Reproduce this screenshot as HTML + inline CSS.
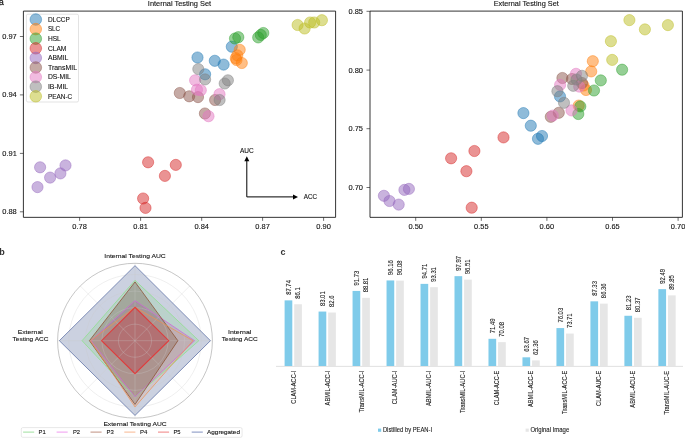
<!DOCTYPE html><html><head><meta charset="utf-8"><style>html,body{margin:0;padding:0;background:#fff;width:685px;height:438px;overflow:hidden}svg{display:block;will-change:transform}text{font-family:"Liberation Sans",sans-serif}</style></head><body>
<svg width="685" height="438" viewBox="0 0 685 438">
<rect width="685" height="438" fill="#fff"/>
<text x="-1.20" y="4.80" font-size="9" text-anchor="start" fill="#222" stroke="#222" stroke-width="0.3" >a</text>
<text x="-0.80" y="254.60" font-size="9" text-anchor="start" fill="#333" font-weight="bold" >b</text>
<text x="280.40" y="254.80" font-size="9" text-anchor="start" fill="#333" font-weight="bold" >c</text>
<circle cx="197.5" cy="57.5" r="5.6" fill="#1f77b4" fill-opacity="0.5" stroke="#1f77b4" stroke-opacity="0.5" stroke-width="0.9"/>
<circle cx="214.8" cy="60.8" r="5.6" fill="#1f77b4" fill-opacity="0.5" stroke="#1f77b4" stroke-opacity="0.5" stroke-width="0.9"/>
<circle cx="223.6" cy="64.6" r="5.6" fill="#1f77b4" fill-opacity="0.5" stroke="#1f77b4" stroke-opacity="0.5" stroke-width="0.9"/>
<circle cx="231.8" cy="46.7" r="5.6" fill="#1f77b4" fill-opacity="0.5" stroke="#1f77b4" stroke-opacity="0.5" stroke-width="0.9"/>
<circle cx="205.1" cy="74.3" r="5.6" fill="#1f77b4" fill-opacity="0.5" stroke="#1f77b4" stroke-opacity="0.5" stroke-width="0.9"/>
<circle cx="239.7" cy="49.8" r="5.6" fill="#ff7f0e" fill-opacity="0.5" stroke="#ff7f0e" stroke-opacity="0.5" stroke-width="0.9"/>
<circle cx="237.3" cy="55.3" r="5.6" fill="#ff7f0e" fill-opacity="0.5" stroke="#ff7f0e" stroke-opacity="0.5" stroke-width="0.9"/>
<circle cx="235.8" cy="58.2" r="5.6" fill="#ff7f0e" fill-opacity="0.5" stroke="#ff7f0e" stroke-opacity="0.5" stroke-width="0.9"/>
<circle cx="236.5" cy="60.0" r="5.6" fill="#ff7f0e" fill-opacity="0.5" stroke="#ff7f0e" stroke-opacity="0.5" stroke-width="0.9"/>
<circle cx="241.8" cy="63.0" r="5.6" fill="#ff7f0e" fill-opacity="0.5" stroke="#ff7f0e" stroke-opacity="0.5" stroke-width="0.9"/>
<circle cx="235.0" cy="38.5" r="5.6" fill="#2ca02c" fill-opacity="0.5" stroke="#2ca02c" stroke-opacity="0.5" stroke-width="0.9"/>
<circle cx="238.3" cy="37.2" r="5.6" fill="#2ca02c" fill-opacity="0.5" stroke="#2ca02c" stroke-opacity="0.5" stroke-width="0.9"/>
<circle cx="258.2" cy="37.4" r="5.6" fill="#2ca02c" fill-opacity="0.5" stroke="#2ca02c" stroke-opacity="0.5" stroke-width="0.9"/>
<circle cx="260.8" cy="34.9" r="5.6" fill="#2ca02c" fill-opacity="0.5" stroke="#2ca02c" stroke-opacity="0.5" stroke-width="0.9"/>
<circle cx="263.3" cy="33.0" r="5.6" fill="#2ca02c" fill-opacity="0.5" stroke="#2ca02c" stroke-opacity="0.5" stroke-width="0.9"/>
<circle cx="148.1" cy="162.3" r="5.6" fill="#d62728" fill-opacity="0.5" stroke="#d62728" stroke-opacity="0.5" stroke-width="0.9"/>
<circle cx="175.8" cy="164.9" r="5.6" fill="#d62728" fill-opacity="0.5" stroke="#d62728" stroke-opacity="0.5" stroke-width="0.9"/>
<circle cx="164.9" cy="175.9" r="5.6" fill="#d62728" fill-opacity="0.5" stroke="#d62728" stroke-opacity="0.5" stroke-width="0.9"/>
<circle cx="143.1" cy="198.5" r="5.6" fill="#d62728" fill-opacity="0.5" stroke="#d62728" stroke-opacity="0.5" stroke-width="0.9"/>
<circle cx="145.5" cy="207.9" r="5.6" fill="#d62728" fill-opacity="0.5" stroke="#d62728" stroke-opacity="0.5" stroke-width="0.9"/>
<circle cx="40.1" cy="167.3" r="5.6" fill="#9467bd" fill-opacity="0.5" stroke="#9467bd" stroke-opacity="0.5" stroke-width="0.9"/>
<circle cx="50.1" cy="177.6" r="5.6" fill="#9467bd" fill-opacity="0.5" stroke="#9467bd" stroke-opacity="0.5" stroke-width="0.9"/>
<circle cx="37.5" cy="187.1" r="5.6" fill="#9467bd" fill-opacity="0.5" stroke="#9467bd" stroke-opacity="0.5" stroke-width="0.9"/>
<circle cx="60.4" cy="173.4" r="5.6" fill="#9467bd" fill-opacity="0.5" stroke="#9467bd" stroke-opacity="0.5" stroke-width="0.9"/>
<circle cx="65.5" cy="165.4" r="5.6" fill="#9467bd" fill-opacity="0.5" stroke="#9467bd" stroke-opacity="0.5" stroke-width="0.9"/>
<circle cx="179.8" cy="93.0" r="5.6" fill="#8c564b" fill-opacity="0.5" stroke="#8c564b" stroke-opacity="0.5" stroke-width="0.9"/>
<circle cx="189.2" cy="96.3" r="5.6" fill="#8c564b" fill-opacity="0.5" stroke="#8c564b" stroke-opacity="0.5" stroke-width="0.9"/>
<circle cx="198.0" cy="97.1" r="5.6" fill="#8c564b" fill-opacity="0.5" stroke="#8c564b" stroke-opacity="0.5" stroke-width="0.9"/>
<circle cx="215.1" cy="100.0" r="5.6" fill="#8c564b" fill-opacity="0.5" stroke="#8c564b" stroke-opacity="0.5" stroke-width="0.9"/>
<circle cx="204.9" cy="113.5" r="5.6" fill="#8c564b" fill-opacity="0.5" stroke="#8c564b" stroke-opacity="0.5" stroke-width="0.9"/>
<circle cx="195.1" cy="80.3" r="5.6" fill="#e377c2" fill-opacity="0.5" stroke="#e377c2" stroke-opacity="0.5" stroke-width="0.9"/>
<circle cx="197.0" cy="89.7" r="5.6" fill="#e377c2" fill-opacity="0.5" stroke="#e377c2" stroke-opacity="0.5" stroke-width="0.9"/>
<circle cx="200.8" cy="90.2" r="5.6" fill="#e377c2" fill-opacity="0.5" stroke="#e377c2" stroke-opacity="0.5" stroke-width="0.9"/>
<circle cx="219.5" cy="94.2" r="5.6" fill="#e377c2" fill-opacity="0.5" stroke="#e377c2" stroke-opacity="0.5" stroke-width="0.9"/>
<circle cx="208.5" cy="116.2" r="5.6" fill="#e377c2" fill-opacity="0.5" stroke="#e377c2" stroke-opacity="0.5" stroke-width="0.9"/>
<circle cx="198.3" cy="69.1" r="5.6" fill="#7f7f7f" fill-opacity="0.5" stroke="#7f7f7f" stroke-opacity="0.5" stroke-width="0.9"/>
<circle cx="205.1" cy="79.4" r="5.6" fill="#7f7f7f" fill-opacity="0.5" stroke="#7f7f7f" stroke-opacity="0.5" stroke-width="0.9"/>
<circle cx="224.7" cy="83.5" r="5.6" fill="#7f7f7f" fill-opacity="0.5" stroke="#7f7f7f" stroke-opacity="0.5" stroke-width="0.9"/>
<circle cx="227.9" cy="80.3" r="5.6" fill="#7f7f7f" fill-opacity="0.5" stroke="#7f7f7f" stroke-opacity="0.5" stroke-width="0.9"/>
<circle cx="219.6" cy="100.0" r="5.6" fill="#7f7f7f" fill-opacity="0.5" stroke="#7f7f7f" stroke-opacity="0.5" stroke-width="0.9"/>
<circle cx="297.6" cy="25.0" r="5.6" fill="#bcbd22" fill-opacity="0.5" stroke="#bcbd22" stroke-opacity="0.5" stroke-width="0.9"/>
<circle cx="304.6" cy="28.5" r="5.6" fill="#bcbd22" fill-opacity="0.5" stroke="#bcbd22" stroke-opacity="0.5" stroke-width="0.9"/>
<circle cx="310.1" cy="22.5" r="5.6" fill="#bcbd22" fill-opacity="0.5" stroke="#bcbd22" stroke-opacity="0.5" stroke-width="0.9"/>
<circle cx="314.2" cy="22.5" r="5.6" fill="#bcbd22" fill-opacity="0.5" stroke="#bcbd22" stroke-opacity="0.5" stroke-width="0.9"/>
<circle cx="321.9" cy="20.2" r="5.6" fill="#bcbd22" fill-opacity="0.5" stroke="#bcbd22" stroke-opacity="0.5" stroke-width="0.9"/>
<path d="M23.4 11.1H335.6V217.35H23.4Z" fill="none" stroke="#000" stroke-width="0.8"/>
<path d="M19.9 36.5H23.4" stroke="#222" stroke-width="0.65"/>
<text x="16.80" y="39.00" font-size="6.7" text-anchor="end" fill="#111" stroke="#111" stroke-width="0.1" textLength="14.52" lengthAdjust="spacingAndGlyphs" >0.97</text>
<path d="M19.9 94.9H23.4" stroke="#222" stroke-width="0.65"/>
<text x="16.80" y="97.40" font-size="6.7" text-anchor="end" fill="#111" stroke="#111" stroke-width="0.1" textLength="14.57" lengthAdjust="spacingAndGlyphs" >0.94</text>
<path d="M19.9 153.39999999999998H23.4" stroke="#222" stroke-width="0.65"/>
<text x="16.80" y="155.90" font-size="6.7" text-anchor="end" fill="#111" stroke="#111" stroke-width="0.1" textLength="14.49" lengthAdjust="spacingAndGlyphs" >0.91</text>
<path d="M19.9 211.79999999999998H23.4" stroke="#222" stroke-width="0.65"/>
<text x="16.80" y="214.30" font-size="6.7" text-anchor="end" fill="#111" stroke="#111" stroke-width="0.1" textLength="14.58" lengthAdjust="spacingAndGlyphs" >0.88</text>
<path d="M79.6 217.35V220.85" stroke="#222" stroke-width="0.65"/>
<text x="79.60" y="229.00" font-size="6.7" text-anchor="middle" fill="#111" stroke="#111" stroke-width="0.1" textLength="14.58" lengthAdjust="spacingAndGlyphs" >0.78</text>
<path d="M140.6 217.35V220.85" stroke="#222" stroke-width="0.65"/>
<text x="140.60" y="229.00" font-size="6.7" text-anchor="middle" fill="#111" stroke="#111" stroke-width="0.1" textLength="14.49" lengthAdjust="spacingAndGlyphs" >0.81</text>
<path d="M201.7 217.35V220.85" stroke="#222" stroke-width="0.65"/>
<text x="201.70" y="229.00" font-size="6.7" text-anchor="middle" fill="#111" stroke="#111" stroke-width="0.1" textLength="14.57" lengthAdjust="spacingAndGlyphs" >0.84</text>
<path d="M262.6 217.35V220.85" stroke="#222" stroke-width="0.65"/>
<text x="262.60" y="229.00" font-size="6.7" text-anchor="middle" fill="#111" stroke="#111" stroke-width="0.1" textLength="14.52" lengthAdjust="spacingAndGlyphs" >0.87</text>
<path d="M323.6 217.35V220.85" stroke="#222" stroke-width="0.65"/>
<text x="323.60" y="229.00" font-size="6.7" text-anchor="middle" fill="#111" stroke="#111" stroke-width="0.1" textLength="14.58" lengthAdjust="spacingAndGlyphs" >0.90</text>
<text x="179.50" y="5.90" font-size="6.75" text-anchor="middle" fill="#111" stroke="#111" stroke-width="0.1" textLength="63.30" lengthAdjust="spacingAndGlyphs" >Internal Testing Set</text>
<rect x="26.4" y="14.2" width="52.1" height="87.8" rx="1.5" fill="#fff" fill-opacity="0.8" stroke="#d0d0d0" stroke-width="0.6"/>
<circle cx="35.8" cy="19.50" r="5.8" fill="#1f77b4" fill-opacity="0.5" stroke="#1f77b4" stroke-opacity="0.5" stroke-width="0.9"/>
<text x="47.90" y="21.80" font-size="6.75" text-anchor="start" fill="#111" stroke="#111" stroke-width="0.1" textLength="21.93" lengthAdjust="spacingAndGlyphs" >DLCCP</text>
<circle cx="35.8" cy="29.10" r="5.8" fill="#ff7f0e" fill-opacity="0.5" stroke="#ff7f0e" stroke-opacity="0.5" stroke-width="0.9"/>
<text x="47.90" y="31.40" font-size="6.75" text-anchor="start" fill="#111" stroke="#111" stroke-width="0.1" textLength="12.22" lengthAdjust="spacingAndGlyphs" >SLC</text>
<circle cx="35.8" cy="38.70" r="5.8" fill="#2ca02c" fill-opacity="0.5" stroke="#2ca02c" stroke-opacity="0.5" stroke-width="0.9"/>
<text x="47.90" y="41.00" font-size="6.75" text-anchor="start" fill="#111" stroke="#111" stroke-width="0.1" textLength="12.84" lengthAdjust="spacingAndGlyphs" >HSL</text>
<circle cx="35.8" cy="48.30" r="5.8" fill="#d62728" fill-opacity="0.5" stroke="#d62728" stroke-opacity="0.5" stroke-width="0.9"/>
<text x="47.90" y="50.60" font-size="6.75" text-anchor="start" fill="#111" stroke="#111" stroke-width="0.1" textLength="18.51" lengthAdjust="spacingAndGlyphs" >CLAM</text>
<circle cx="35.8" cy="57.90" r="5.8" fill="#9467bd" fill-opacity="0.5" stroke="#9467bd" stroke-opacity="0.5" stroke-width="0.9"/>
<text x="47.90" y="60.20" font-size="6.75" text-anchor="start" fill="#111" stroke="#111" stroke-width="0.1" textLength="20.51" lengthAdjust="spacingAndGlyphs" >ABMIL</text>
<circle cx="35.8" cy="67.50" r="5.8" fill="#8c564b" fill-opacity="0.5" stroke="#8c564b" stroke-opacity="0.5" stroke-width="0.9"/>
<text x="47.90" y="69.80" font-size="6.75" text-anchor="start" fill="#111" stroke="#111" stroke-width="0.1" textLength="29.13" lengthAdjust="spacingAndGlyphs" >TransMIL</text>
<circle cx="35.8" cy="77.10" r="5.8" fill="#e377c2" fill-opacity="0.5" stroke="#e377c2" stroke-opacity="0.5" stroke-width="0.9"/>
<text x="47.90" y="79.40" font-size="6.75" text-anchor="start" fill="#111" stroke="#111" stroke-width="0.1" textLength="23.02" lengthAdjust="spacingAndGlyphs" >DS-MIL</text>
<circle cx="35.8" cy="86.70" r="5.8" fill="#7f7f7f" fill-opacity="0.5" stroke="#7f7f7f" stroke-opacity="0.5" stroke-width="0.9"/>
<text x="47.90" y="89.00" font-size="6.75" text-anchor="start" fill="#111" stroke="#111" stroke-width="0.1" textLength="20.30" lengthAdjust="spacingAndGlyphs" >IB-MIL</text>
<circle cx="35.8" cy="96.30" r="5.8" fill="#bcbd22" fill-opacity="0.5" stroke="#bcbd22" stroke-opacity="0.5" stroke-width="0.9"/>
<text x="47.90" y="98.60" font-size="6.75" text-anchor="start" fill="#111" stroke="#111" stroke-width="0.1" textLength="24.39" lengthAdjust="spacingAndGlyphs" >PEAN-C</text>
<path d="M246.8 196.9V160.5M246.8 196.9H293.5" stroke="#000" stroke-width="1"/>
<path d="M244.3 161.2L246.8 156.2L249.3 161.2Z" fill="#000"/>
<path d="M293.0 194.4L298.0 196.9L293.0 199.4Z" fill="#000"/>
<text x="246.80" y="153.00" font-size="6.6" text-anchor="middle" fill="#111" stroke="#111" stroke-width="0.1" textLength="13.71" lengthAdjust="spacingAndGlyphs" >AUC</text>
<text x="303.80" y="199.40" font-size="6.6" text-anchor="start" fill="#111" stroke="#111" stroke-width="0.1" textLength="13.37" lengthAdjust="spacingAndGlyphs" >ACC</text>
<circle cx="523.4" cy="113.1" r="5.6" fill="#1f77b4" fill-opacity="0.5" stroke="#1f77b4" stroke-opacity="0.5" stroke-width="0.9"/>
<circle cx="530.8" cy="125.7" r="5.6" fill="#1f77b4" fill-opacity="0.5" stroke="#1f77b4" stroke-opacity="0.5" stroke-width="0.9"/>
<circle cx="538.0" cy="138.8" r="5.6" fill="#1f77b4" fill-opacity="0.5" stroke="#1f77b4" stroke-opacity="0.5" stroke-width="0.9"/>
<circle cx="542.0" cy="136.0" r="5.6" fill="#1f77b4" fill-opacity="0.5" stroke="#1f77b4" stroke-opacity="0.5" stroke-width="0.9"/>
<circle cx="560.0" cy="96.4" r="5.6" fill="#1f77b4" fill-opacity="0.5" stroke="#1f77b4" stroke-opacity="0.5" stroke-width="0.9"/>
<circle cx="592.8" cy="61.2" r="5.6" fill="#ff7f0e" fill-opacity="0.5" stroke="#ff7f0e" stroke-opacity="0.5" stroke-width="0.9"/>
<circle cx="591.2" cy="71.4" r="5.6" fill="#ff7f0e" fill-opacity="0.5" stroke="#ff7f0e" stroke-opacity="0.5" stroke-width="0.9"/>
<circle cx="586.0" cy="90.0" r="5.6" fill="#ff7f0e" fill-opacity="0.5" stroke="#ff7f0e" stroke-opacity="0.5" stroke-width="0.9"/>
<circle cx="583.5" cy="85.5" r="5.6" fill="#ff7f0e" fill-opacity="0.5" stroke="#ff7f0e" stroke-opacity="0.5" stroke-width="0.9"/>
<circle cx="578.7" cy="105.6" r="5.6" fill="#ff7f0e" fill-opacity="0.5" stroke="#ff7f0e" stroke-opacity="0.5" stroke-width="0.9"/>
<circle cx="622.1" cy="69.7" r="5.6" fill="#2ca02c" fill-opacity="0.5" stroke="#2ca02c" stroke-opacity="0.5" stroke-width="0.9"/>
<circle cx="600.8" cy="80.4" r="5.6" fill="#2ca02c" fill-opacity="0.5" stroke="#2ca02c" stroke-opacity="0.5" stroke-width="0.9"/>
<circle cx="594.0" cy="90.5" r="5.6" fill="#2ca02c" fill-opacity="0.5" stroke="#2ca02c" stroke-opacity="0.5" stroke-width="0.9"/>
<circle cx="580.3" cy="106.4" r="5.6" fill="#2ca02c" fill-opacity="0.5" stroke="#2ca02c" stroke-opacity="0.5" stroke-width="0.9"/>
<circle cx="578.3" cy="114.0" r="5.6" fill="#2ca02c" fill-opacity="0.5" stroke="#2ca02c" stroke-opacity="0.5" stroke-width="0.9"/>
<circle cx="451.1" cy="158.3" r="5.6" fill="#d62728" fill-opacity="0.5" stroke="#d62728" stroke-opacity="0.5" stroke-width="0.9"/>
<circle cx="474.4" cy="151.0" r="5.6" fill="#d62728" fill-opacity="0.5" stroke="#d62728" stroke-opacity="0.5" stroke-width="0.9"/>
<circle cx="503.5" cy="137.4" r="5.6" fill="#d62728" fill-opacity="0.5" stroke="#d62728" stroke-opacity="0.5" stroke-width="0.9"/>
<circle cx="466.4" cy="171.2" r="5.6" fill="#d62728" fill-opacity="0.5" stroke="#d62728" stroke-opacity="0.5" stroke-width="0.9"/>
<circle cx="471.7" cy="207.7" r="5.6" fill="#d62728" fill-opacity="0.5" stroke="#d62728" stroke-opacity="0.5" stroke-width="0.9"/>
<circle cx="383.9" cy="195.8" r="5.6" fill="#9467bd" fill-opacity="0.5" stroke="#9467bd" stroke-opacity="0.5" stroke-width="0.9"/>
<circle cx="389.5" cy="201.0" r="5.6" fill="#9467bd" fill-opacity="0.5" stroke="#9467bd" stroke-opacity="0.5" stroke-width="0.9"/>
<circle cx="398.7" cy="204.6" r="5.6" fill="#9467bd" fill-opacity="0.5" stroke="#9467bd" stroke-opacity="0.5" stroke-width="0.9"/>
<circle cx="404.4" cy="189.9" r="5.6" fill="#9467bd" fill-opacity="0.5" stroke="#9467bd" stroke-opacity="0.5" stroke-width="0.9"/>
<circle cx="408.9" cy="188.9" r="5.6" fill="#9467bd" fill-opacity="0.5" stroke="#9467bd" stroke-opacity="0.5" stroke-width="0.9"/>
<circle cx="562.4" cy="78.0" r="5.6" fill="#8c564b" fill-opacity="0.5" stroke="#8c564b" stroke-opacity="0.5" stroke-width="0.9"/>
<circle cx="572.0" cy="79.0" r="5.6" fill="#8c564b" fill-opacity="0.5" stroke="#8c564b" stroke-opacity="0.5" stroke-width="0.9"/>
<circle cx="582.0" cy="83.0" r="5.6" fill="#8c564b" fill-opacity="0.5" stroke="#8c564b" stroke-opacity="0.5" stroke-width="0.9"/>
<circle cx="558.8" cy="112.8" r="5.6" fill="#8c564b" fill-opacity="0.5" stroke="#8c564b" stroke-opacity="0.5" stroke-width="0.9"/>
<circle cx="550.8" cy="116.8" r="5.6" fill="#8c564b" fill-opacity="0.5" stroke="#8c564b" stroke-opacity="0.5" stroke-width="0.9"/>
<circle cx="576.0" cy="73.8" r="5.6" fill="#e377c2" fill-opacity="0.5" stroke="#e377c2" stroke-opacity="0.5" stroke-width="0.9"/>
<circle cx="579.2" cy="86.6" r="5.6" fill="#e377c2" fill-opacity="0.5" stroke="#e377c2" stroke-opacity="0.5" stroke-width="0.9"/>
<circle cx="560.1" cy="84.9" r="5.6" fill="#e377c2" fill-opacity="0.5" stroke="#e377c2" stroke-opacity="0.5" stroke-width="0.9"/>
<circle cx="571.5" cy="110.4" r="5.6" fill="#e377c2" fill-opacity="0.5" stroke="#e377c2" stroke-opacity="0.5" stroke-width="0.9"/>
<circle cx="552.8" cy="115.6" r="5.6" fill="#e377c2" fill-opacity="0.5" stroke="#e377c2" stroke-opacity="0.5" stroke-width="0.9"/>
<circle cx="582.0" cy="75.8" r="5.6" fill="#7f7f7f" fill-opacity="0.5" stroke="#7f7f7f" stroke-opacity="0.5" stroke-width="0.9"/>
<circle cx="573.2" cy="85.8" r="5.6" fill="#7f7f7f" fill-opacity="0.5" stroke="#7f7f7f" stroke-opacity="0.5" stroke-width="0.9"/>
<circle cx="557.4" cy="91.2" r="5.6" fill="#7f7f7f" fill-opacity="0.5" stroke="#7f7f7f" stroke-opacity="0.5" stroke-width="0.9"/>
<circle cx="564.0" cy="102.8" r="5.6" fill="#7f7f7f" fill-opacity="0.5" stroke="#7f7f7f" stroke-opacity="0.5" stroke-width="0.9"/>
<circle cx="576.5" cy="79.5" r="5.6" fill="#7f7f7f" fill-opacity="0.5" stroke="#7f7f7f" stroke-opacity="0.5" stroke-width="0.9"/>
<circle cx="610.9" cy="41.2" r="5.6" fill="#bcbd22" fill-opacity="0.5" stroke="#bcbd22" stroke-opacity="0.5" stroke-width="0.9"/>
<circle cx="629.4" cy="20.1" r="5.6" fill="#bcbd22" fill-opacity="0.5" stroke="#bcbd22" stroke-opacity="0.5" stroke-width="0.9"/>
<circle cx="644.9" cy="29.4" r="5.6" fill="#bcbd22" fill-opacity="0.5" stroke="#bcbd22" stroke-opacity="0.5" stroke-width="0.9"/>
<circle cx="667.9" cy="25.1" r="5.6" fill="#bcbd22" fill-opacity="0.5" stroke="#bcbd22" stroke-opacity="0.5" stroke-width="0.9"/>
<circle cx="612.2" cy="59.9" r="5.6" fill="#bcbd22" fill-opacity="0.5" stroke="#bcbd22" stroke-opacity="0.5" stroke-width="0.9"/>
<path d="M370.0 11.1H682.4V217.35H370.0Z" fill="none" stroke="#000" stroke-width="0.8"/>
<path d="M366.5 11.299999999999999H370.0" stroke="#222" stroke-width="0.65"/>
<text x="363.00" y="13.80" font-size="6.7" text-anchor="end" fill="#111" stroke="#111" stroke-width="0.1" textLength="14.44" lengthAdjust="spacingAndGlyphs" >0.85</text>
<path d="M366.5 70.10000000000001H370.0" stroke="#222" stroke-width="0.65"/>
<text x="363.00" y="72.60" font-size="6.7" text-anchor="end" fill="#111" stroke="#111" stroke-width="0.1" textLength="14.58" lengthAdjust="spacingAndGlyphs" >0.80</text>
<path d="M366.5 128.7H370.0" stroke="#222" stroke-width="0.65"/>
<text x="363.00" y="131.20" font-size="6.7" text-anchor="end" fill="#111" stroke="#111" stroke-width="0.1" textLength="14.44" lengthAdjust="spacingAndGlyphs" >0.75</text>
<path d="M366.5 187.5H370.0" stroke="#222" stroke-width="0.65"/>
<text x="363.00" y="190.00" font-size="6.7" text-anchor="end" fill="#111" stroke="#111" stroke-width="0.1" textLength="14.58" lengthAdjust="spacingAndGlyphs" >0.70</text>
<path d="M415.7 217.35V220.85" stroke="#222" stroke-width="0.65"/>
<text x="415.70" y="229.00" font-size="6.7" text-anchor="middle" fill="#111" stroke="#111" stroke-width="0.1" textLength="14.58" lengthAdjust="spacingAndGlyphs" >0.50</text>
<path d="M481.3 217.35V220.85" stroke="#222" stroke-width="0.65"/>
<text x="481.30" y="229.00" font-size="6.7" text-anchor="middle" fill="#111" stroke="#111" stroke-width="0.1" textLength="14.44" lengthAdjust="spacingAndGlyphs" >0.55</text>
<path d="M546.9 217.35V220.85" stroke="#222" stroke-width="0.65"/>
<text x="546.90" y="229.00" font-size="6.7" text-anchor="middle" fill="#111" stroke="#111" stroke-width="0.1" textLength="14.58" lengthAdjust="spacingAndGlyphs" >0.60</text>
<path d="M612.5 217.35V220.85" stroke="#222" stroke-width="0.65"/>
<text x="612.50" y="229.00" font-size="6.7" text-anchor="middle" fill="#111" stroke="#111" stroke-width="0.1" textLength="14.44" lengthAdjust="spacingAndGlyphs" >0.65</text>
<path d="M678.1 217.35V220.85" stroke="#222" stroke-width="0.65"/>
<text x="678.10" y="229.00" font-size="6.7" text-anchor="middle" fill="#111" stroke="#111" stroke-width="0.1" textLength="14.58" lengthAdjust="spacingAndGlyphs" >0.70</text>
<text x="526.20" y="5.90" font-size="6.75" text-anchor="middle" fill="#111" stroke="#111" stroke-width="0.1" textLength="65.15" lengthAdjust="spacingAndGlyphs" >External Testing Set</text>
<path d="M135.0 265.65L210.45 340.7L135.0 415.45L59.35 340.7Z" fill="#44598f" fill-opacity="0.28" stroke="none"/>
<path d="M135.0 280.30L198.85 340.7L135.0 397.20L82.05 340.7Z" fill="#7fd67f" fill-opacity="0.22" stroke="none"/>
<path d="M135.0 300.65L194.55 340.7L135.0 396.95L91.00 340.7Z" fill="#b050b0" fill-opacity="0.22" stroke="none"/>
<path d="M135.0 281.95L177.85 340.7L135.0 404.45L89.40 340.7Z" fill="#6e4a36" fill-opacity="0.3" stroke="none"/>
<path d="M135.0 307.20L192.95 340.7L135.0 406.90L90.50 340.7Z" fill="#e89060" fill-opacity="0.16" stroke="none"/>
<path d="M135.0 307.25L168.75 340.7L135.0 373.65L101.55 340.7Z" fill="#c02838" fill-opacity="0.32" stroke="none"/>
<circle cx="135.0" cy="340.7" r="16.55" fill="none" stroke="#c8c8c8" stroke-opacity="0.6" stroke-width="0.5"/>
<circle cx="135.0" cy="340.7" r="33.1" fill="none" stroke="#c8c8c8" stroke-opacity="0.6" stroke-width="0.5"/>
<circle cx="135.0" cy="340.7" r="49.65" fill="none" stroke="#c8c8c8" stroke-opacity="0.6" stroke-width="0.5"/>
<circle cx="135.0" cy="340.7" r="66.2" fill="none" stroke="#c8c8c8" stroke-opacity="0.6" stroke-width="0.5"/>
<path d="M135.0 340.7L212.40 340.70" stroke="#c8c8c8" stroke-opacity="0.6" stroke-width="0.5"/>
<path d="M135.0 340.7L189.73 395.43" stroke="#c8c8c8" stroke-opacity="0.6" stroke-width="0.5"/>
<path d="M135.0 340.7L135.00 418.10" stroke="#c8c8c8" stroke-opacity="0.6" stroke-width="0.5"/>
<path d="M135.0 340.7L80.27 395.43" stroke="#c8c8c8" stroke-opacity="0.6" stroke-width="0.5"/>
<path d="M135.0 340.7L57.60 340.70" stroke="#c8c8c8" stroke-opacity="0.6" stroke-width="0.5"/>
<path d="M135.0 340.7L80.27 285.97" stroke="#c8c8c8" stroke-opacity="0.6" stroke-width="0.5"/>
<path d="M135.0 340.7L135.00 263.30" stroke="#c8c8c8" stroke-opacity="0.6" stroke-width="0.5"/>
<path d="M135.0 340.7L189.73 285.97" stroke="#c8c8c8" stroke-opacity="0.6" stroke-width="0.5"/>
<path d="M135.0 265.65L210.45 340.7L135.0 415.45L59.35 340.7Z" fill="none" stroke="#4a5f99" stroke-opacity="0.75" stroke-width="0.9" stroke-linejoin="miter"/>
<path d="M135.0 280.30L198.85 340.7L135.0 397.20L82.05 340.7Z" fill="none" stroke="#90e090" stroke-opacity="0.9" stroke-width="0.9" stroke-linejoin="miter"/>
<path d="M135.0 300.65L194.55 340.7L135.0 396.95L91.00 340.7Z" fill="none" stroke="#d060d8" stroke-opacity="0.8" stroke-width="0.9" stroke-linejoin="miter"/>
<path d="M135.0 281.95L177.85 340.7L135.0 404.45L89.40 340.7Z" fill="none" stroke="#8a5030" stroke-opacity="0.85" stroke-width="0.9" stroke-linejoin="miter"/>
<path d="M135.0 307.20L192.95 340.7L135.0 406.90L90.50 340.7Z" fill="none" stroke="#f09050" stroke-opacity="0.8" stroke-width="0.9" stroke-linejoin="miter"/>
<path d="M135.0 307.25L168.75 340.7L135.0 373.65L101.55 340.7Z" fill="none" stroke="#e83030" stroke-opacity="0.85" stroke-width="1.1" stroke-linejoin="miter"/>
<circle cx="135.0" cy="340.7" r="77.4" fill="none" stroke="#a0a0a0" stroke-width="0.6"/>
<text x="135.00" y="258.00" font-size="6.25" text-anchor="middle" fill="#111" stroke="#111" stroke-width="0.1" textLength="61.49" lengthAdjust="spacingAndGlyphs" >Internal Testing AUC</text>
<text x="135.00" y="425.50" font-size="6.25" text-anchor="middle" fill="#111" stroke="#111" stroke-width="0.1" textLength="63.19" lengthAdjust="spacingAndGlyphs" >External Testing AUC</text>
<text x="30.20" y="334.20" font-size="6.25" text-anchor="middle" fill="#111" stroke="#111" stroke-width="0.1" textLength="25.06" lengthAdjust="spacingAndGlyphs" >External</text>
<text x="30.50" y="340.80" font-size="6.25" text-anchor="middle" fill="#111" stroke="#111" stroke-width="0.1" textLength="36.01" lengthAdjust="spacingAndGlyphs" >Testing ACC</text>
<text x="239.70" y="334.20" font-size="6.25" text-anchor="middle" fill="#111" stroke="#111" stroke-width="0.1" textLength="23.34" lengthAdjust="spacingAndGlyphs" >Internal</text>
<text x="239.75" y="340.80" font-size="6.25" text-anchor="middle" fill="#111" stroke="#111" stroke-width="0.1" textLength="36.01" lengthAdjust="spacingAndGlyphs" >Testing ACC</text>
<rect x="21.3" y="427.6" width="220.8" height="9.7" rx="1.5" fill="#fff" stroke="#d8d8d8" stroke-width="0.6"/>
<path d="M23.1 432.1H34.2" stroke="#9ee09e" stroke-width="1"/>
<text x="38.50" y="434.10" font-size="6.0" text-anchor="start" fill="#111" stroke="#111" stroke-width="0.1" textLength="7.19" lengthAdjust="spacingAndGlyphs" >P1</text>
<path d="M56.6 432.1H67.7" stroke="#f09af0" stroke-width="1"/>
<text x="72.90" y="434.10" font-size="6.0" text-anchor="start" fill="#111" stroke="#111" stroke-width="0.1" textLength="7.12" lengthAdjust="spacingAndGlyphs" >P2</text>
<path d="M90.5 432.1H101.6" stroke="#c09080" stroke-width="1"/>
<text x="106.50" y="434.10" font-size="6.0" text-anchor="start" fill="#111" stroke="#111" stroke-width="0.1" textLength="7.22" lengthAdjust="spacingAndGlyphs" >P3</text>
<path d="M124.3 432.1H135.4" stroke="#f8b890" stroke-width="1"/>
<text x="140.00" y="434.10" font-size="6.0" text-anchor="start" fill="#111" stroke="#111" stroke-width="0.1" textLength="7.29" lengthAdjust="spacingAndGlyphs" >P4</text>
<path d="M158.0 432.1H169.1" stroke="#f08080" stroke-width="1"/>
<text x="173.40" y="434.10" font-size="6.0" text-anchor="start" fill="#111" stroke="#111" stroke-width="0.1" textLength="7.16" lengthAdjust="spacingAndGlyphs" >P5</text>
<path d="M191.7 432.1H202.79999999999998" stroke="#8090c0" stroke-width="1"/>
<text x="207.10" y="434.10" font-size="6.0" text-anchor="start" fill="#111" stroke="#111" stroke-width="0.1" textLength="32.85" lengthAdjust="spacingAndGlyphs" >Aggregated</text>
<path d="M276 366.4H683" stroke="#d9d9d9" stroke-width="0.8"/>
<rect x="284.60" y="300.37" width="7.7" height="65.63" fill="#7fcbea"/>
<rect x="294.20" y="304.25" width="7.7" height="61.75" fill="#e6e6e6"/>
<text transform="translate(290.85 294.87) rotate(-90)" font-size="6.6" fill="#1a1a1a" stroke="#1a1a1a" stroke-width="0.1" textLength="14.81" lengthAdjust="spacingAndGlyphs">87.74</text>
<text transform="translate(300.45 298.75) rotate(-90)" font-size="6.6" fill="#1a1a1a" stroke="#1a1a1a" stroke-width="0.1" textLength="11.43" lengthAdjust="spacingAndGlyphs">86.1</text>
<text transform="translate(295.55 370.8) rotate(-90)" font-size="6.5" text-anchor="end" fill="#1a1a1a" stroke="#1a1a1a" stroke-width="0.1" textLength="32.86" lengthAdjust="spacingAndGlyphs">CLAM-ACC-I</text>
<rect x="318.58" y="311.56" width="7.7" height="54.44" fill="#7fcbea"/>
<rect x="328.18" y="312.53" width="7.7" height="53.47" fill="#e6e6e6"/>
<text transform="translate(324.83 306.06) rotate(-90)" font-size="6.6" fill="#1a1a1a" stroke="#1a1a1a" stroke-width="0.1" textLength="14.73" lengthAdjust="spacingAndGlyphs">83.01</text>
<text transform="translate(334.43 307.03) rotate(-90)" font-size="6.6" fill="#1a1a1a" stroke="#1a1a1a" stroke-width="0.1" textLength="11.47" lengthAdjust="spacingAndGlyphs">82.6</text>
<text transform="translate(329.53 370.8) rotate(-90)" font-size="6.5" text-anchor="end" fill="#1a1a1a" stroke="#1a1a1a" stroke-width="0.1" textLength="34.59" lengthAdjust="spacingAndGlyphs">ABMIL-ACC-I</text>
<rect x="352.56" y="290.93" width="7.7" height="75.07" fill="#7fcbea"/>
<rect x="362.16" y="297.84" width="7.7" height="68.16" fill="#e6e6e6"/>
<text transform="translate(358.81 285.43) rotate(-90)" font-size="6.6" fill="#1a1a1a" stroke="#1a1a1a" stroke-width="0.1" textLength="14.60" lengthAdjust="spacingAndGlyphs">91.73</text>
<text transform="translate(368.41 292.34) rotate(-90)" font-size="6.6" fill="#1a1a1a" stroke="#1a1a1a" stroke-width="0.1" textLength="14.73" lengthAdjust="spacingAndGlyphs">88.81</text>
<text transform="translate(363.51 370.8) rotate(-90)" font-size="6.5" text-anchor="end" fill="#1a1a1a" stroke="#1a1a1a" stroke-width="0.1" textLength="41.56" lengthAdjust="spacingAndGlyphs">TransMIL-ACC-I</text>
<rect x="386.54" y="280.45" width="7.7" height="85.55" fill="#7fcbea"/>
<rect x="396.14" y="280.63" width="7.7" height="85.37" fill="#e6e6e6"/>
<text transform="translate(392.79 274.95) rotate(-90)" font-size="6.6" fill="#1a1a1a" stroke="#1a1a1a" stroke-width="0.1" textLength="14.60" lengthAdjust="spacingAndGlyphs">96.16</text>
<text transform="translate(402.39 275.13) rotate(-90)" font-size="6.6" fill="#1a1a1a" stroke="#1a1a1a" stroke-width="0.1" textLength="14.54" lengthAdjust="spacingAndGlyphs">96.08</text>
<text transform="translate(397.49 370.8) rotate(-90)" font-size="6.5" text-anchor="end" fill="#1a1a1a" stroke="#1a1a1a" stroke-width="0.1" textLength="33.55" lengthAdjust="spacingAndGlyphs">CLAM-AUC-I</text>
<rect x="420.52" y="283.88" width="7.7" height="82.12" fill="#7fcbea"/>
<rect x="430.12" y="287.19" width="7.7" height="78.81" fill="#e6e6e6"/>
<text transform="translate(426.77 278.38) rotate(-90)" font-size="6.6" fill="#1a1a1a" stroke="#1a1a1a" stroke-width="0.1" textLength="14.56" lengthAdjust="spacingAndGlyphs">94.71</text>
<text transform="translate(436.37 281.69) rotate(-90)" font-size="6.6" fill="#1a1a1a" stroke="#1a1a1a" stroke-width="0.1" textLength="14.56" lengthAdjust="spacingAndGlyphs">93.31</text>
<text transform="translate(431.47 370.8) rotate(-90)" font-size="6.5" text-anchor="end" fill="#1a1a1a" stroke="#1a1a1a" stroke-width="0.1" textLength="35.27" lengthAdjust="spacingAndGlyphs">ABMIL-AUC-I</text>
<rect x="454.50" y="276.16" width="7.7" height="89.84" fill="#7fcbea"/>
<rect x="464.10" y="279.62" width="7.7" height="86.38" fill="#e6e6e6"/>
<text transform="translate(460.75 270.66) rotate(-90)" font-size="6.6" fill="#1a1a1a" stroke="#1a1a1a" stroke-width="0.1" textLength="14.66" lengthAdjust="spacingAndGlyphs">97.97</text>
<text transform="translate(470.35 274.12) rotate(-90)" font-size="6.6" fill="#1a1a1a" stroke="#1a1a1a" stroke-width="0.1" textLength="14.56" lengthAdjust="spacingAndGlyphs">96.51</text>
<text transform="translate(465.45 370.8) rotate(-90)" font-size="6.5" text-anchor="end" fill="#1a1a1a" stroke="#1a1a1a" stroke-width="0.1" textLength="42.24" lengthAdjust="spacingAndGlyphs">TransMIL-AUC-I</text>
<rect x="488.48" y="338.81" width="7.7" height="27.19" fill="#7fcbea"/>
<rect x="498.08" y="342.15" width="7.7" height="23.85" fill="#e6e6e6"/>
<text transform="translate(494.73 333.31) rotate(-90)" font-size="6.6" fill="#1a1a1a" stroke="#1a1a1a" stroke-width="0.1" textLength="14.77" lengthAdjust="spacingAndGlyphs">71.49</text>
<text transform="translate(504.33 336.65) rotate(-90)" font-size="6.6" fill="#1a1a1a" stroke="#1a1a1a" stroke-width="0.1" textLength="14.67" lengthAdjust="spacingAndGlyphs">70.08</text>
<text transform="translate(499.43 370.8) rotate(-90)" font-size="6.5" text-anchor="end" fill="#1a1a1a" stroke="#1a1a1a" stroke-width="0.1" textLength="34.42" lengthAdjust="spacingAndGlyphs">CLAM-ACC-E</text>
<rect x="522.46" y="357.32" width="7.7" height="8.68" fill="#7fcbea"/>
<rect x="532.06" y="360.42" width="7.7" height="5.58" fill="#e6e6e6"/>
<text transform="translate(528.71 351.82) rotate(-90)" font-size="6.6" fill="#1a1a1a" stroke="#1a1a1a" stroke-width="0.1" textLength="14.83" lengthAdjust="spacingAndGlyphs">63.67</text>
<text transform="translate(538.31 354.92) rotate(-90)" font-size="6.6" fill="#1a1a1a" stroke="#1a1a1a" stroke-width="0.1" textLength="14.77" lengthAdjust="spacingAndGlyphs">62.36</text>
<text transform="translate(533.41 370.8) rotate(-90)" font-size="6.5" text-anchor="end" fill="#1a1a1a" stroke="#1a1a1a" stroke-width="0.1" textLength="36.14" lengthAdjust="spacingAndGlyphs">ABMIL-ACC-E</text>
<rect x="556.44" y="328.07" width="7.7" height="37.93" fill="#7fcbea"/>
<rect x="566.04" y="333.56" width="7.7" height="32.44" fill="#e6e6e6"/>
<text transform="translate(562.69 322.57) rotate(-90)" font-size="6.6" fill="#1a1a1a" stroke="#1a1a1a" stroke-width="0.1" textLength="14.73" lengthAdjust="spacingAndGlyphs">76.03</text>
<text transform="translate(572.29 328.06) rotate(-90)" font-size="6.6" fill="#1a1a1a" stroke="#1a1a1a" stroke-width="0.1" textLength="14.70" lengthAdjust="spacingAndGlyphs">73.71</text>
<text transform="translate(567.39 370.8) rotate(-90)" font-size="6.5" text-anchor="end" fill="#1a1a1a" stroke="#1a1a1a" stroke-width="0.1" textLength="43.11" lengthAdjust="spacingAndGlyphs">TransMIL-ACC-E</text>
<rect x="590.42" y="301.34" width="7.7" height="64.66" fill="#7fcbea"/>
<rect x="600.02" y="303.63" width="7.7" height="62.37" fill="#e6e6e6"/>
<text transform="translate(596.67 295.84) rotate(-90)" font-size="6.6" fill="#1a1a1a" stroke="#1a1a1a" stroke-width="0.1" textLength="14.77" lengthAdjust="spacingAndGlyphs">87.33</text>
<text transform="translate(606.27 298.13) rotate(-90)" font-size="6.6" fill="#1a1a1a" stroke="#1a1a1a" stroke-width="0.1" textLength="14.77" lengthAdjust="spacingAndGlyphs">86.36</text>
<text transform="translate(601.37 370.8) rotate(-90)" font-size="6.5" text-anchor="end" fill="#1a1a1a" stroke="#1a1a1a" stroke-width="0.1" textLength="35.10" lengthAdjust="spacingAndGlyphs">CLAM-AUC-E</text>
<rect x="624.40" y="315.77" width="7.7" height="50.23" fill="#7fcbea"/>
<rect x="634.00" y="317.80" width="7.7" height="48.20" fill="#e6e6e6"/>
<text transform="translate(630.65 310.27) rotate(-90)" font-size="6.6" fill="#1a1a1a" stroke="#1a1a1a" stroke-width="0.1" textLength="14.77" lengthAdjust="spacingAndGlyphs">81.23</text>
<text transform="translate(640.25 312.30) rotate(-90)" font-size="6.6" fill="#1a1a1a" stroke="#1a1a1a" stroke-width="0.1" textLength="14.83" lengthAdjust="spacingAndGlyphs">80.37</text>
<text transform="translate(635.35 370.8) rotate(-90)" font-size="6.5" text-anchor="end" fill="#1a1a1a" stroke="#1a1a1a" stroke-width="0.1" textLength="36.89" lengthAdjust="spacingAndGlyphs">ABMIL-ACU-E</text>
<rect x="658.38" y="289.13" width="7.7" height="76.87" fill="#7fcbea"/>
<rect x="667.98" y="295.37" width="7.7" height="70.63" fill="#e6e6e6"/>
<text transform="translate(664.63 283.63) rotate(-90)" font-size="6.6" fill="#1a1a1a" stroke="#1a1a1a" stroke-width="0.1" textLength="14.63" lengthAdjust="spacingAndGlyphs">92.49</text>
<text transform="translate(674.23 289.87) rotate(-90)" font-size="6.6" fill="#1a1a1a" stroke="#1a1a1a" stroke-width="0.1" textLength="14.60" lengthAdjust="spacingAndGlyphs">89.85</text>
<text transform="translate(669.33 370.8) rotate(-90)" font-size="6.5" text-anchor="end" fill="#1a1a1a" stroke="#1a1a1a" stroke-width="0.1" textLength="43.79" lengthAdjust="spacingAndGlyphs">TransMIL-AUC-E</text>
<rect x="378.0" y="428.6" width="3.2" height="3.2" fill="#7fcbea"/>
<text x="382.90" y="432.30" font-size="6.3" text-anchor="start" fill="#1a1a1a" stroke="#1a1a1a" stroke-width="0.1" textLength="49.20" lengthAdjust="spacingAndGlyphs" >Distilled by PEAN-I</text>
<rect x="525.6" y="428.6" width="3.2" height="3.2" fill="#e6e6e6"/>
<text x="530.40" y="432.30" font-size="6.3" text-anchor="start" fill="#1a1a1a" stroke="#1a1a1a" stroke-width="0.1" textLength="38.86" lengthAdjust="spacingAndGlyphs" >Original Image</text>
</svg></body></html>
